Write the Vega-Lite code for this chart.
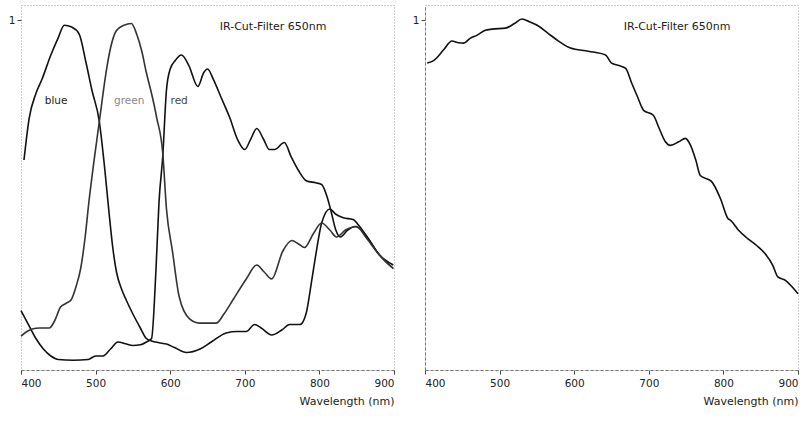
{
  "$schema": "https://vega.github.io/schema/vega-lite/v6.json",
  "background": "white",
  "padding": {"left": 7, "top": 4, "right": 5, "bottom": 5},
  "spacing": 31,
  "bounds": "flush",
  "config": {
    "font": "DejaVu Sans",
    "view": {"stroke": "#9a9a9a", "strokeDash": [1, 2], "strokeWidth": 1},
    "axis": {
      "grid": false,
      "domainColor": "#777",
      "domainDash": [3, 2],
      "domainWidth": 1,
      "tickColor": "#444",
      "tickSize": 4,
      "labelFont": "DejaVu Sans",
      "labelFontSize": 10.5,
      "labelColor": "#222",
      "titleFont": "DejaVu Sans",
      "titleFontSize": 11,
      "titleFontWeight": "normal",
      "titleColor": "#222"
    }
  },
  "datasets": {
    "rgb": [
      {"nm": 404, "v": 0.60, "ch": "blue"},
      {"nm": 411, "v": 0.72, "ch": "blue"},
      {"nm": 420, "v": 0.79, "ch": "blue"},
      {"nm": 428, "v": 0.83, "ch": "blue"},
      {"nm": 440, "v": 0.90, "ch": "blue"},
      {"nm": 450, "v": 0.95, "ch": "blue"},
      {"nm": 458, "v": 0.985, "ch": "blue"},
      {"nm": 468, "v": 0.98, "ch": "blue"},
      {"nm": 478, "v": 0.96, "ch": "blue"},
      {"nm": 487, "v": 0.88, "ch": "blue"},
      {"nm": 495, "v": 0.80, "ch": "blue"},
      {"nm": 505, "v": 0.71, "ch": "blue"},
      {"nm": 512, "v": 0.58, "ch": "blue"},
      {"nm": 518, "v": 0.45, "ch": "blue"},
      {"nm": 523, "v": 0.35, "ch": "blue"},
      {"nm": 528, "v": 0.28, "ch": "blue"},
      {"nm": 535, "v": 0.23, "ch": "blue"},
      {"nm": 541, "v": 0.20, "ch": "blue"},
      {"nm": 550, "v": 0.16, "ch": "blue"},
      {"nm": 560, "v": 0.12, "ch": "blue"},
      {"nm": 568, "v": 0.09, "ch": "blue"},
      {"nm": 575, "v": 0.083, "ch": "blue"},
      {"nm": 585, "v": 0.078, "ch": "blue"},
      {"nm": 595, "v": 0.074, "ch": "blue"},
      {"nm": 605, "v": 0.065, "ch": "blue"},
      {"nm": 622, "v": 0.05, "ch": "blue"},
      {"nm": 640, "v": 0.06, "ch": "blue"},
      {"nm": 655, "v": 0.08, "ch": "blue"},
      {"nm": 675, "v": 0.106, "ch": "blue"},
      {"nm": 690, "v": 0.11, "ch": "blue"},
      {"nm": 702, "v": 0.11, "ch": "blue"},
      {"nm": 713, "v": 0.13, "ch": "blue"},
      {"nm": 722, "v": 0.12, "ch": "blue"},
      {"nm": 736, "v": 0.10, "ch": "blue"},
      {"nm": 750, "v": 0.115, "ch": "blue"},
      {"nm": 760, "v": 0.13, "ch": "blue"},
      {"nm": 774, "v": 0.13, "ch": "blue"},
      {"nm": 782, "v": 0.16, "ch": "blue"},
      {"nm": 790, "v": 0.26, "ch": "blue"},
      {"nm": 796, "v": 0.34, "ch": "blue"},
      {"nm": 803, "v": 0.42, "ch": "blue"},
      {"nm": 814, "v": 0.46, "ch": "blue"},
      {"nm": 822, "v": 0.445, "ch": "blue"},
      {"nm": 832, "v": 0.435, "ch": "blue"},
      {"nm": 845, "v": 0.43, "ch": "blue"},
      {"nm": 854, "v": 0.41, "ch": "blue"},
      {"nm": 864, "v": 0.38, "ch": "blue"},
      {"nm": 880, "v": 0.33, "ch": "blue"},
      {"nm": 899, "v": 0.29, "ch": "blue"},

      {"nm": 400, "v": 0.17, "ch": "red"},
      {"nm": 410, "v": 0.13, "ch": "red"},
      {"nm": 420, "v": 0.09, "ch": "red"},
      {"nm": 430, "v": 0.06, "ch": "red"},
      {"nm": 440, "v": 0.04, "ch": "red"},
      {"nm": 450, "v": 0.03, "ch": "red"},
      {"nm": 470, "v": 0.028, "ch": "red"},
      {"nm": 490, "v": 0.03, "ch": "red"},
      {"nm": 500, "v": 0.04, "ch": "red"},
      {"nm": 510, "v": 0.04, "ch": "red"},
      {"nm": 520, "v": 0.06, "ch": "red"},
      {"nm": 530, "v": 0.08, "ch": "red"},
      {"nm": 540, "v": 0.075, "ch": "red"},
      {"nm": 550, "v": 0.07, "ch": "red"},
      {"nm": 560, "v": 0.072, "ch": "red"},
      {"nm": 568, "v": 0.08, "ch": "red"},
      {"nm": 575, "v": 0.09, "ch": "red"},
      {"nm": 581, "v": 0.29, "ch": "red"},
      {"nm": 585, "v": 0.48, "ch": "red"},
      {"nm": 590, "v": 0.61, "ch": "red"},
      {"nm": 595, "v": 0.80, "ch": "red"},
      {"nm": 600, "v": 0.86, "ch": "red"},
      {"nm": 607, "v": 0.885, "ch": "red"},
      {"nm": 615, "v": 0.90, "ch": "red"},
      {"nm": 625, "v": 0.87, "ch": "red"},
      {"nm": 637, "v": 0.81, "ch": "red"},
      {"nm": 645, "v": 0.85, "ch": "red"},
      {"nm": 650, "v": 0.86, "ch": "red"},
      {"nm": 658, "v": 0.83, "ch": "red"},
      {"nm": 668, "v": 0.78, "ch": "red"},
      {"nm": 680, "v": 0.72, "ch": "red"},
      {"nm": 690, "v": 0.66, "ch": "red"},
      {"nm": 700, "v": 0.63, "ch": "red"},
      {"nm": 708, "v": 0.66, "ch": "red"},
      {"nm": 716, "v": 0.69, "ch": "red"},
      {"nm": 725, "v": 0.66, "ch": "red"},
      {"nm": 733, "v": 0.63, "ch": "red"},
      {"nm": 740, "v": 0.63, "ch": "red"},
      {"nm": 753, "v": 0.65, "ch": "red"},
      {"nm": 762, "v": 0.61, "ch": "red"},
      {"nm": 772, "v": 0.57, "ch": "red"},
      {"nm": 783, "v": 0.54, "ch": "red"},
      {"nm": 795, "v": 0.535, "ch": "red"},
      {"nm": 803, "v": 0.53, "ch": "red"},
      {"nm": 811, "v": 0.49, "ch": "red"},
      {"nm": 816, "v": 0.45, "ch": "red"},
      {"nm": 822, "v": 0.40, "ch": "red"},
      {"nm": 828, "v": 0.38, "ch": "red"},
      {"nm": 838, "v": 0.40, "ch": "red"},
      {"nm": 848, "v": 0.41, "ch": "red"},
      {"nm": 856, "v": 0.40, "ch": "red"},
      {"nm": 864, "v": 0.38, "ch": "red"},
      {"nm": 880, "v": 0.33, "ch": "red"},
      {"nm": 899, "v": 0.30, "ch": "red"},

      {"nm": 400, "v": 0.097, "ch": "green"},
      {"nm": 408, "v": 0.11, "ch": "green"},
      {"nm": 415, "v": 0.117, "ch": "green"},
      {"nm": 425, "v": 0.12, "ch": "green"},
      {"nm": 438, "v": 0.12, "ch": "green"},
      {"nm": 445, "v": 0.14, "ch": "green"},
      {"nm": 453, "v": 0.18, "ch": "green"},
      {"nm": 460, "v": 0.19, "ch": "green"},
      {"nm": 467, "v": 0.20, "ch": "green"},
      {"nm": 474, "v": 0.24, "ch": "green"},
      {"nm": 480, "v": 0.29, "ch": "green"},
      {"nm": 486, "v": 0.38, "ch": "green"},
      {"nm": 491, "v": 0.48, "ch": "green"},
      {"nm": 498, "v": 0.60, "ch": "green"},
      {"nm": 505, "v": 0.71, "ch": "green"},
      {"nm": 514, "v": 0.85, "ch": "green"},
      {"nm": 520, "v": 0.92, "ch": "green"},
      {"nm": 528, "v": 0.97, "ch": "green"},
      {"nm": 538, "v": 0.985, "ch": "green"},
      {"nm": 548, "v": 0.99, "ch": "green"},
      {"nm": 555, "v": 0.96, "ch": "green"},
      {"nm": 562, "v": 0.91, "ch": "green"},
      {"nm": 568, "v": 0.85, "ch": "green"},
      {"nm": 575, "v": 0.79, "ch": "green"},
      {"nm": 582, "v": 0.72, "ch": "green"},
      {"nm": 590, "v": 0.62, "ch": "green"},
      {"nm": 595, "v": 0.46, "ch": "green"},
      {"nm": 603, "v": 0.34, "ch": "green"},
      {"nm": 612, "v": 0.21, "ch": "green"},
      {"nm": 626, "v": 0.146, "ch": "green"},
      {"nm": 639, "v": 0.134, "ch": "green"},
      {"nm": 662, "v": 0.134, "ch": "green"},
      {"nm": 672, "v": 0.16, "ch": "green"},
      {"nm": 684, "v": 0.20, "ch": "green"},
      {"nm": 702, "v": 0.26, "ch": "green"},
      {"nm": 716, "v": 0.30, "ch": "green"},
      {"nm": 726, "v": 0.28, "ch": "green"},
      {"nm": 736, "v": 0.26, "ch": "green"},
      {"nm": 751, "v": 0.34, "ch": "green"},
      {"nm": 763, "v": 0.37, "ch": "green"},
      {"nm": 772, "v": 0.36, "ch": "green"},
      {"nm": 780, "v": 0.35, "ch": "green"},
      {"nm": 792, "v": 0.39, "ch": "green"},
      {"nm": 803, "v": 0.42, "ch": "green"},
      {"nm": 814, "v": 0.40, "ch": "green"},
      {"nm": 823, "v": 0.38, "ch": "green"},
      {"nm": 835, "v": 0.40, "ch": "green"},
      {"nm": 850, "v": 0.41, "ch": "green"},
      {"nm": 862, "v": 0.38, "ch": "green"},
      {"nm": 880, "v": 0.33, "ch": "green"},
      {"nm": 899, "v": 0.29, "ch": "green"}
    ],
    "mono": [
      {"nm": 403, "v": 0.877},
      {"nm": 412, "v": 0.885},
      {"nm": 425, "v": 0.915},
      {"nm": 436, "v": 0.94},
      {"nm": 445, "v": 0.935},
      {"nm": 452, "v": 0.934},
      {"nm": 460, "v": 0.947},
      {"nm": 470, "v": 0.957},
      {"nm": 480, "v": 0.97},
      {"nm": 490, "v": 0.974},
      {"nm": 508, "v": 0.977},
      {"nm": 520, "v": 0.99},
      {"nm": 530, "v": 1.003},
      {"nm": 540, "v": 0.995},
      {"nm": 552, "v": 0.983},
      {"nm": 565, "v": 0.962},
      {"nm": 579, "v": 0.94},
      {"nm": 595, "v": 0.92},
      {"nm": 619, "v": 0.911},
      {"nm": 642, "v": 0.90},
      {"nm": 650, "v": 0.877},
      {"nm": 660, "v": 0.87},
      {"nm": 669, "v": 0.862},
      {"nm": 677, "v": 0.82},
      {"nm": 685, "v": 0.78},
      {"nm": 693, "v": 0.742},
      {"nm": 706, "v": 0.728},
      {"nm": 714, "v": 0.69},
      {"nm": 722, "v": 0.653},
      {"nm": 729, "v": 0.642},
      {"nm": 740, "v": 0.652},
      {"nm": 749, "v": 0.662},
      {"nm": 756, "v": 0.642},
      {"nm": 763, "v": 0.60},
      {"nm": 769, "v": 0.556},
      {"nm": 784, "v": 0.539},
      {"nm": 796, "v": 0.49},
      {"nm": 806, "v": 0.433},
      {"nm": 810, "v": 0.427},
      {"nm": 820, "v": 0.40},
      {"nm": 833, "v": 0.375},
      {"nm": 845, "v": 0.355},
      {"nm": 856, "v": 0.332},
      {"nm": 866, "v": 0.30},
      {"nm": 873, "v": 0.266},
      {"nm": 884, "v": 0.255},
      {"nm": 892, "v": 0.238},
      {"nm": 900, "v": 0.218}
    ],
    "labels": [
      {"nm": 447, "v": 0.77, "t": "blue"},
      {"nm": 545, "v": 0.77, "t": "green"},
      {"nm": 612, "v": 0.77, "t": "red"}
    ],
    "note": [
      {"nm": 738, "v": 0.98, "t": "IR-Cut-Filter 650nm"}
    ]
  },
  "hconcat": [
    {
      "width": 373,
      "height": 365,
      "layer": [
        {
          "data": {"name": "rgb"},
          "mark": {"type": "line", "interpolate": "monotone", "strokeWidth": 1.6},
          "encoding": {
            "x": {"field": "nm", "type": "quantitative", "scale": {"domain": [400, 900], "nice": false, "zero": false},
                  "axis": {"values": [400, 500, 600, 700, 800, 900], "title": "Wavelength (nm)", "titleAnchor": "end", "labelPadding": 4, "titlePadding": 7}},
            "y": {"field": "v", "type": "quantitative", "scale": {"domain": [0, 1.043], "nice": false},
                  "axis": {"values": [1], "format": "d", "title": null, "domain": false}},
            "detail": {"field": "ch"},
            "stroke": {"field": "ch", "type": "nominal", "scale": {"domain": ["blue", "green", "red"], "range": ["#111111", "#333333", "#111111"]}, "legend": null}
          }
        },
        {
          "data": {"name": "labels"},
          "mark": {"type": "text", "fontSize": 10.5, "font": "DejaVu Sans"},
          "encoding": {
            "x": {"field": "nm", "type": "quantitative"},
            "y": {"field": "v", "type": "quantitative"},
            "text": {"field": "t"},
            "color": {"field": "t", "type": "nominal", "scale": {"domain": ["blue", "green", "red"], "range": ["#222222", "#8a8a8a", "#444444"]}, "legend": null}
          }
        },
        {
          "data": {"name": "note"},
          "mark": {"type": "text", "fontSize": 11, "font": "DejaVu Sans", "color": "#222"},
          "encoding": {
            "x": {"field": "nm", "type": "quantitative"},
            "y": {"field": "v", "type": "quantitative"},
            "text": {"field": "t"}
          }
        }
      ]
    },
    {
      "width": 373,
      "height": 365,
      "layer": [
        {
          "data": {"name": "mono"},
          "mark": {"type": "line", "interpolate": "monotone", "strokeWidth": 1.6, "color": "#111"},
          "encoding": {
            "x": {"field": "nm", "type": "quantitative", "scale": {"domain": [400, 900], "nice": false, "zero": false},
                  "axis": {"values": [400, 500, 600, 700, 800, 900], "title": "Wavelength (nm)", "titleAnchor": "end", "labelPadding": 4, "titlePadding": 7}},
            "y": {"field": "v", "type": "quantitative", "scale": {"domain": [0, 1.043], "nice": false},
                  "axis": {"values": [1], "format": "d", "title": null}}
          }
        },
        {
          "data": {"name": "note"},
          "mark": {"type": "text", "fontSize": 11, "font": "DejaVu Sans", "color": "#222"},
          "encoding": {
            "x": {"field": "nm", "type": "quantitative"},
            "y": {"field": "v", "type": "quantitative"},
            "text": {"field": "t"}
          }
        }
      ]
    }
  ]
}
